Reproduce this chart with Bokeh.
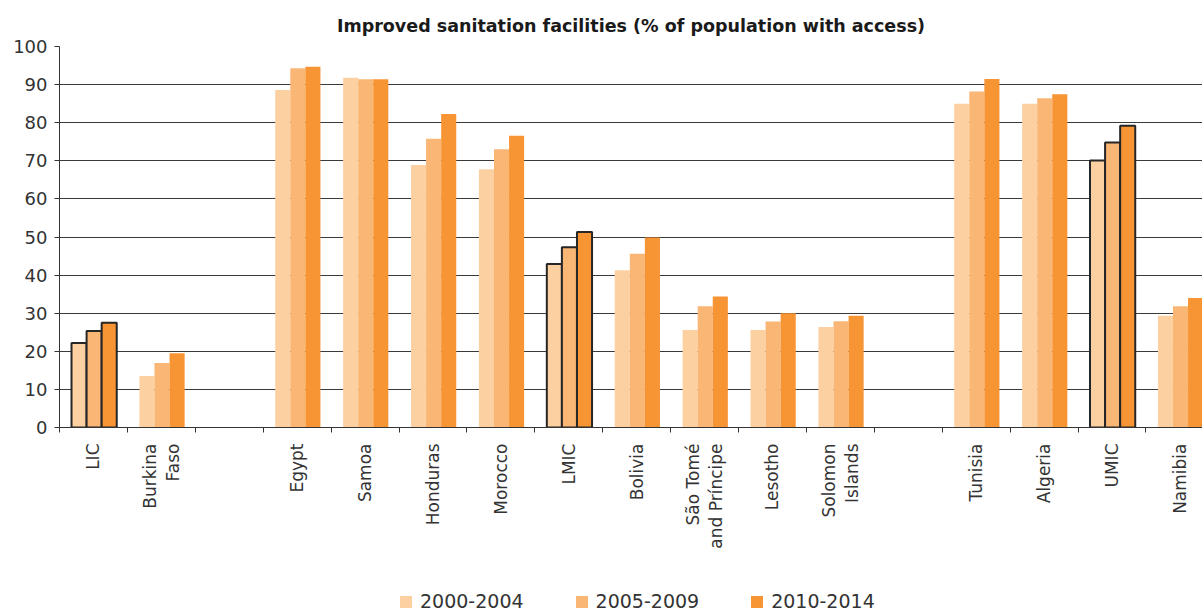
import numpy as np
from bokeh.plotting import figure
from bokeh.layouts import column
from bokeh.models import FixedTicker, Legend, LegendItem, Range1d
from bokeh.embed import file_html
from bokeh.resources import INLINE

# ---- data ----
categories = ["LIC", "Burkina\nFaso", "", "Egypt", "Samoa", "Honduras", "Morocco",
              "LMIC", "Bolivia", "São Tomé\nand Príncipe", "Lesotho", "Solomon\nIslands",
              "", "Tunisia", "Algeria", "UMIC", "Namibia"]
aggregates = ["LIC", "LMIC", "UMIC"]
series_names = ["2000-2004", "2005-2009", "2010-2014"]
v2000 = [22.2, 13.5, None, 88.6, 91.8, 68.9, 67.8, 42.9, 41.3, 25.6, 25.6, 26.4, None, 85.0, 85.0, 70.1, 29.3]
v2005 = [25.3, 16.9, None, 94.3, 91.4, 75.8, 73.0, 47.3, 45.6, 31.8, 27.8, 27.9, None, 88.2, 86.4, 74.8, 31.8]
v2010 = [27.5, 19.5, None, 94.7, 91.4, 82.3, 76.6, 51.3, 49.9, 34.4, 30.0, 29.3, None, 91.5, 87.5, 79.2, 34.0]
y_ticks = list(range(0, 101, 10))
colors = ["#FCD0A1", "#FAB675", "#F79433"]
title = "Improved sanitation facilities (% of population with access)"

FONT = "DejaVu Sans"
W = 1202
H_MAIN, H_LEG = 580, 32
BL, BT = 59, 46
FRAME_H = 381
BB = H_MAIN - BT - FRAME_H
slot_px = 67.9
x_end = (W - BL) / slot_px

p = figure(width=W, height=H_MAIN, output_backend="svg", toolbar_location=None,
           x_range=Range1d(0, x_end), y_range=Range1d(0, 100),
           min_border_left=BL, min_border_right=0, min_border_top=BT, min_border_bottom=BB)
p.outline_line_color = None
p.background_fill_color = "white"
p.border_fill_color = "white"

p.title.text = title
p.title.align = "center"
p.title.text_font = FONT
p.title.text_font_size = "17.5px"
p.title.text_font_style = "bold"
p.title.text_color = "#1a1a1a"
p.title.standoff = 22

n = len(categories)
bw = 0.222
series = [v2000, v2005, v2010]
for k, vals in enumerate(series):
    off = (k - 1) * bw
    xs_n, tops_n, xs_a, tops_a = [], [], [], []
    for i, (c, v) in enumerate(zip(categories, vals)):
        if v is None:
            continue
        if c in aggregates:
            xs_a.append(i + 0.5 + off + 0.01); tops_a.append(v)
        else:
            xs_n.append(i + 0.5 + off + 0.01); tops_n.append(v)
    p.vbar(x=xs_n, top=tops_n, width=bw, bottom=0, fill_color=colors[k], line_color=None)
    p.vbar(x=xs_a, top=tops_a, width=bw, bottom=0, fill_color=colors[k],
           line_color="#262626", line_width=2)

# x axis
centers = [i + 0.5 for i in range(n)]
bounds = [float(i) for i in range(n + 1)]
xa = p.xaxis[0]
xa.ticker = FixedTicker(ticks=centers, minor_ticks=bounds)
xa.major_label_overrides = {c: lab for c, lab in zip(centers, categories)}
xa.major_label_orientation = np.pi / 2
xa.major_tick_out = 0
xa.major_tick_in = 0
xa.minor_tick_out = 5
xa.minor_tick_in = 0
xa.minor_tick_line_color = "#333333"
xa.axis_line_color = "#333333"
xa.major_label_standoff = 11
xa.major_label_text_font = FONT
xa.major_label_text_font_size = "17px"
xa.major_label_text_color = "#333333"
xa.major_label_text_line_height = 1.17

# y axis
ya = p.yaxis[0]
ya.ticker = FixedTicker(ticks=y_ticks)
ya.major_tick_out = 5
ya.major_tick_in = 0
ya.minor_tick_line_color = None
ya.axis_line_color = "#333333"
ya.major_tick_line_color = "#333333"
ya.major_label_standoff = 7
ya.major_label_text_font = FONT
ya.major_label_text_font_size = "18px"
ya.major_label_text_color = "#333333"

p.xgrid.visible = False
p.ygrid.grid_line_color = "#3a3a3a"
p.ygrid.grid_line_width = 1

# ---- legend strip (zero-height proxy bars only carry the legend swatches) ----
pl = figure(width=W, height=H_LEG, output_backend="svg", toolbar_location=None,
            x_axis_location=None, y_axis_location=None,
            x_range=Range1d(0, 1), y_range=Range1d(0, 1),
            min_border_left=0, min_border_right=0, min_border_top=0, min_border_bottom=0)
pl.title.visible = False
pl.outline_line_color = None
pl.xgrid.visible = False
pl.ygrid.visible = False
items = []
for k, name in enumerate(series_names):
    r = pl.vbar(x=[-1], top=[-1], bottom=[-1], width=0, fill_color=colors[k], line_color=None)
    items.append(LegendItem(label=name, renderers=[r]))
legend = Legend(items=items, orientation="horizontal", location=(339, 0),
                glyph_width=15, glyph_height=15, label_standoff=7, spacing=50,
                label_text_font=FONT, label_text_font_size="19px", label_text_color="#333333",
                padding=0, margin=0, border_line_color=None, background_fill_alpha=0)
pl.add_layout(legend)

layout = column(p, pl, spacing=0)
open("out.html", "w").write(file_html(layout, INLINE))
